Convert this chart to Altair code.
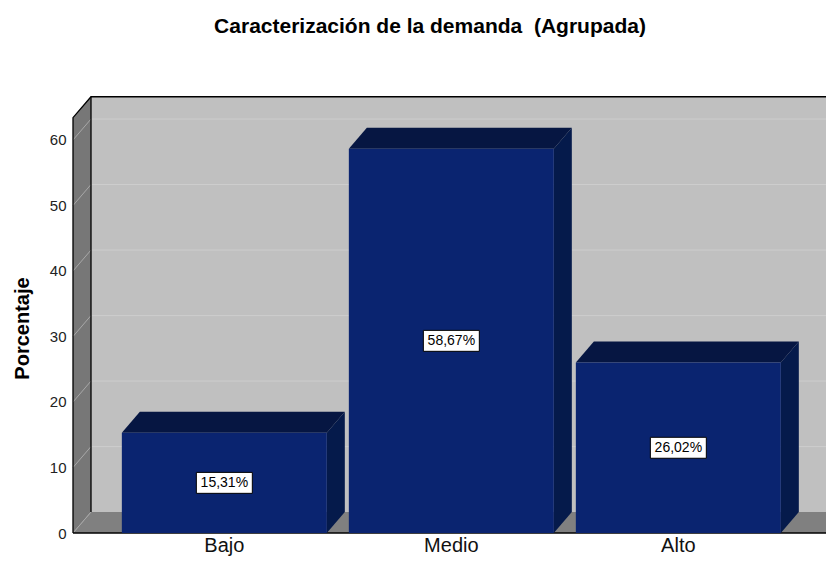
import altair as alt
import pandas as pd

# ---- data ----
categories = ["Bajo", "Medio", "Alto"]
values = [15.31, 58.67, 26.02]
value_labels = ["15,31%", "58,67%", "26,02%"]
y_ticks = [0, 10, 20, 30, 40, 50, 60]
title_text = "Caracterización de la demanda \u00a0(Agrupada)"
y_title = "Porcentaje"

# ---- geometry (data units) and style ----
FONT = "Liberation Sans, Arial, sans-serif"
PLOT_W, PLOT_H = 753, 436
BAR_W = 0.903          # bar width as a fraction of a category slot
DX, DY = 0.0793, 3.2   # pseudo-3D depth offset (x slots, y percent)
X0, X1 = -2 / 3, 8 / 3 # front extent of floor
YTOP = 63.4            # front top of the wall
XDOM = [X0, X0 + PLOT_W / 227]
YDOM = [0, 66.56]
BOX_HW, BOX_HH = 0.1233, 1.6

WALL, GRID = "#c0c0c0", "#cdcdcd"
LEFT, LEFTGRID, FLOOR = "#777777", "#a8a8a8", "#808080"
FRONT, TOP, SIDE = "#0a2470", "#061642", "#051a4b"

xs = alt.Scale(domain=XDOM, nice=False, zero=False)
ys = alt.Scale(domain=YDOM, nice=False, zero=False)
yaxis = alt.Axis(values=y_ticks, title=y_title, grid=False, ticks=False, tickSize=0,
                 domain=False, labelFontSize=15, labelPadding=7, labelFont=FONT,
                 labelColor="#222222", titleFontSize=20, titleFont=FONT,
                 titleFontWeight="bold", titleColor="black", titleAngle=270,
                 titleX=-51, titleY=231, titleAlign="center", titleBaseline="middle")


def X(f):
    return alt.X(f, type="quantitative", scale=xs, axis=None)


def Y(f):
    return alt.Y(f, type="quantitative", scale=ys, axis=yaxis, stack=None)


# back wall
back = alt.Chart(pd.DataFrame({"x": [X0 + DX], "x2": [X1 + DX], "y": [DY], "y2": [YTOP + DY]})
                 ).mark_rect(color=WALL).encode(x=X("x"), x2="x2", y=Y("y"), y2="y2")

grid_df = pd.DataFrame({"x": [X0 + DX] * 6, "x2": [X1 + DX + 0.3] * 6,
                        "y": [v + DY for v in y_ticks[1:]]})
grid = alt.Chart(grid_df).mark_rule(color=GRID, strokeWidth=1).encode(x=X("x"), x2="x2", y=Y("y"))

# left wall
lw_df = pd.DataFrame({"x": [X0, X0 + DX], "y": [YTOP, YTOP + DY], "y2": [0, DY]})
leftwall = alt.Chart(lw_df).mark_area(color=LEFT, orient="vertical").encode(
    x=X("x"), y=Y("y"), y2="y2")

# floor
fl_df = pd.DataFrame({"y": [0, DY], "x": [X0, X0 + DX], "x2": [X1, X1 + DX]})
floor = alt.Chart(fl_df).mark_area(color=FLOOR, orient="horizontal").encode(
    y=Y("y"), x=X("x"), x2="x2")

# left-wall diagonal gridlines
rows = []
for v in y_ticks:
    rows.append({"seg": v, "ord": 0, "x": X0, "y": v})
    rows.append({"seg": v, "ord": 1, "x": X0 + DX, "y": v + DY})
diag = alt.Chart(pd.DataFrame(rows)).mark_line(color=LEFTGRID, strokeWidth=1).encode(
    x=X("x"), y=Y("y"), detail="seg:N", order="ord:Q")

# black edges of the box
edges = []
for s, pts in enumerate([
        [(X0, 0), (X0, YTOP), (X0 + DX, YTOP + DY), (X1 + DX + 0.3, YTOP + DY)],
        [(X0 + DX, DY), (X0 + DX, YTOP + DY)],
        [(X0, 0), (X1, 0), (X1 + DX, DY)]]):
    for k, (px, py) in enumerate(pts):
        edges.append({"seg": s, "ord": k, "x": px, "y": py})
edge = alt.Chart(pd.DataFrame(edges)).mark_line(color="black", strokeWidth=1.3).encode(
    x=X("x"), y=Y("y"), detail="seg:N", order="ord:Q")

# bars
bar_df = pd.DataFrame({
    "cat": categories, "v": values, "lab": value_labels,
    "c": list(range(len(categories))),
})
bar_df["l"] = bar_df["c"] - BAR_W / 2
bar_df["r"] = bar_df["c"] + BAR_W / 2
bar_df["zero"] = 0.0
bar_df["ymid"] = bar_df["v"] / 2
bar_df["bl"] = bar_df["c"] - BOX_HW
bar_df["br"] = bar_df["c"] + BOX_HW
bar_df["bb"] = bar_df["ymid"] - BOX_HH
bar_df["bt"] = bar_df["ymid"] + BOX_HH

side_rows, top_rows = [], []
for cat, v, l, r in zip(bar_df["cat"], bar_df["v"], bar_df["l"], bar_df["r"]):
    side_rows.append({"cat": cat, "x": r, "y": v, "y2": 0.0})
    side_rows.append({"cat": cat, "x": r + DX, "y": v + DY, "y2": DY})
    top_rows.append({"cat": cat, "y": v, "x": l, "x2": r})
    top_rows.append({"cat": cat, "y": v + DY, "x": l + DX, "x2": r + DX})

sides = alt.Chart(pd.DataFrame(side_rows)).mark_area(color=SIDE, orient="vertical").encode(
    x=X("x"), y=Y("y"), y2="y2", detail="cat:N")
tops = alt.Chart(pd.DataFrame(top_rows)).mark_area(color=TOP, orient="horizontal").encode(
    y=Y("y"), x=X("x"), x2="x2", detail="cat:N")
fronts = alt.Chart(bar_df).mark_rect(color=FRONT).encode(
    x=X("l"), x2="r", y=Y("zero"), y2="v")

boxes = alt.Chart(bar_df).mark_rect(fill="white", stroke="black", strokeWidth=1).encode(
    x=X("bl"), x2="br", y=Y("bb"), y2="bt")
labels = alt.Chart(bar_df).mark_text(font=FONT, fontSize=14, color="black",
                                     align="center", baseline="middle").encode(
    x=X("c"), y=Y("ymid"), text="lab:N")
catlabels = alt.Chart(bar_df).mark_text(font=FONT, fontSize=20, color="#111111",
                                        align="center", baseline="alphabetic", dy=19).encode(
    x=X("c"), y=Y("zero"), text="cat:N")

chart = alt.layer(
    back, grid, leftwall, floor, diag, edge, sides, tops, fronts, boxes, labels, catlabels
).properties(
    width=PLOT_W, height=PLOT_H,
    autosize=alt.AutoSizeParams(type="none"),
    padding={"left": 65, "top": 89, "right": 0, "bottom": 24},
    title=alt.Title(title_text, font=FONT, fontSize=21, fontWeight="bold", color="black",
                    anchor="middle", frame="group", dx=-19.5, offset=57),
    background="white",
).configure_view(stroke=None)

chart.save("out.html", embed_options={"renderer": "svg", "actions": False})
